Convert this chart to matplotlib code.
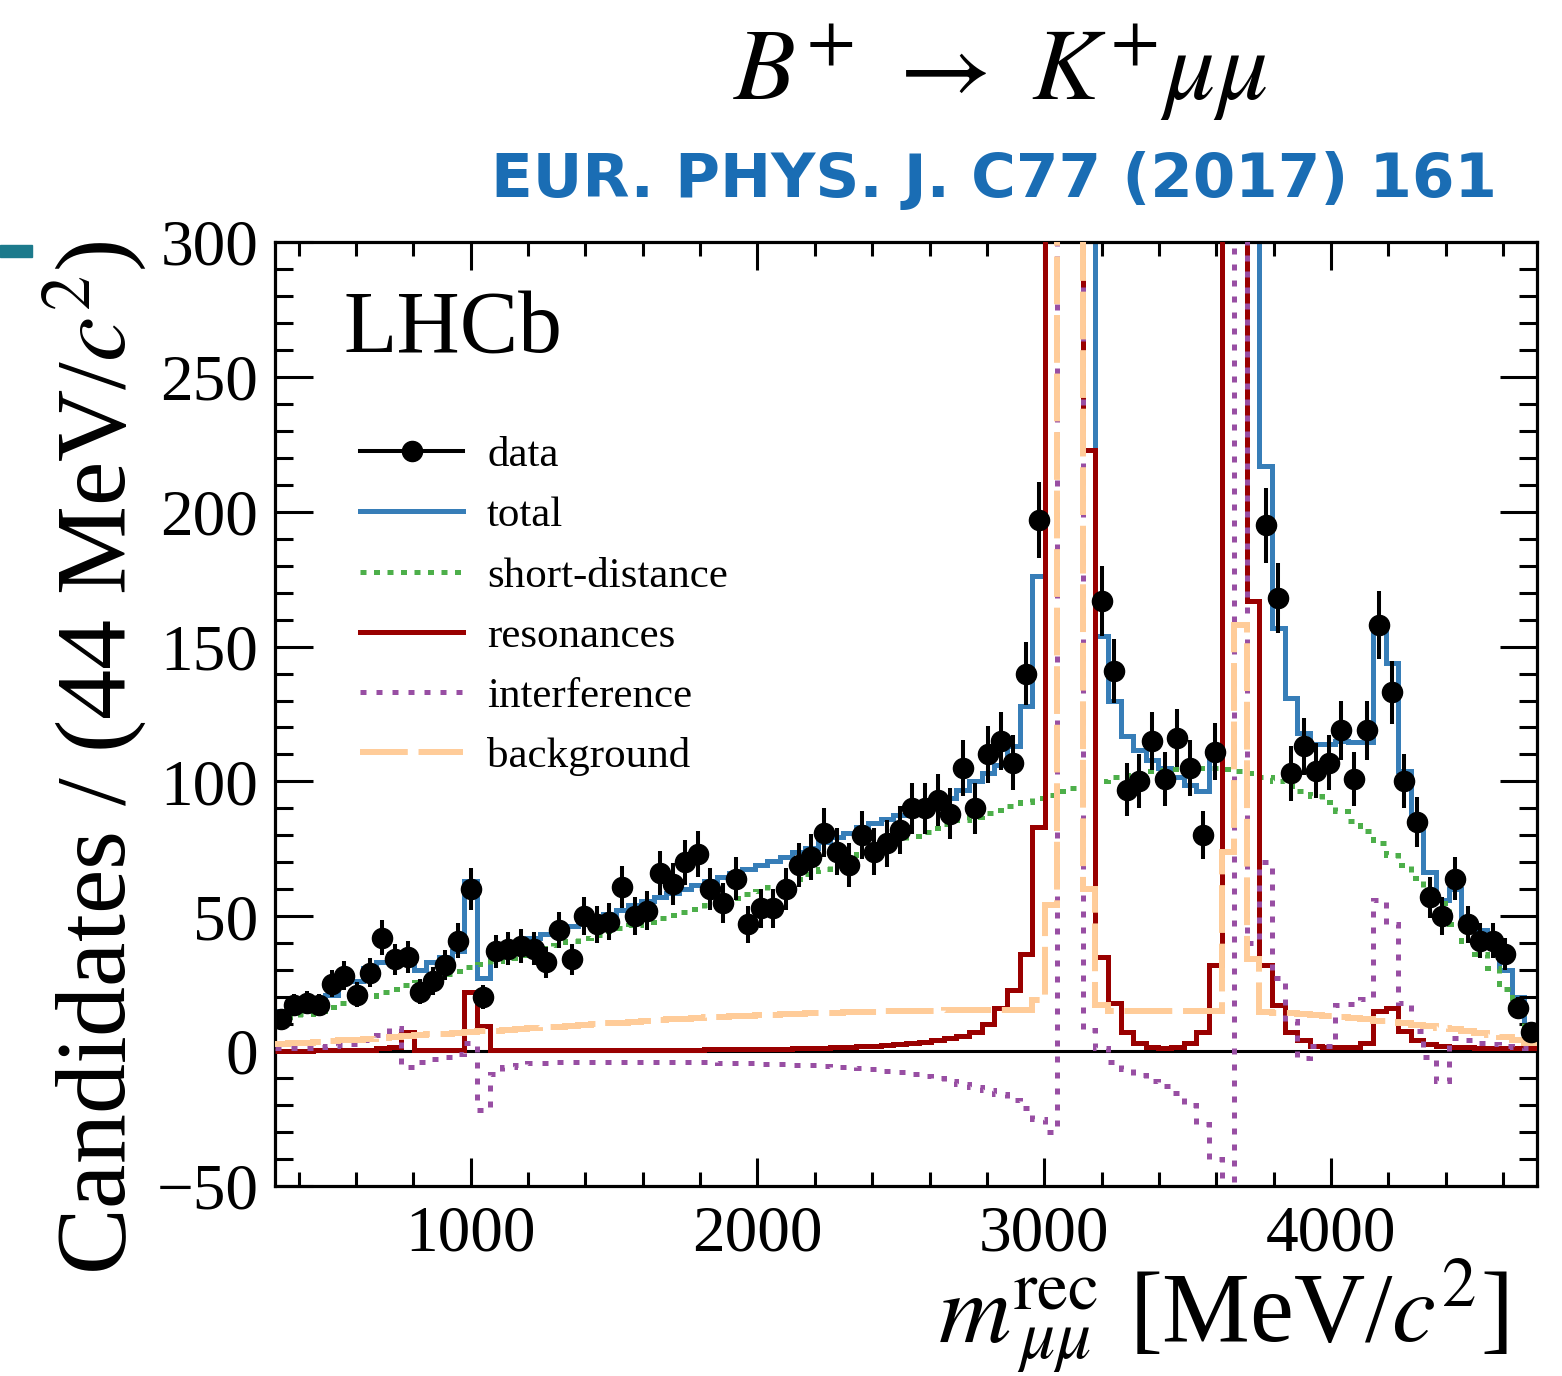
import numpy as np
import matplotlib
matplotlib.use('Agg')
import matplotlib.pyplot as plt
from matplotlib.lines import Line2D
from matplotlib.patches import Rectangle
from matplotlib.ticker import MultipleLocator

plt.rcParams['font.family'] = ['Liberation Serif', 'DejaVu Serif']
plt.rcParams['mathtext.fontset'] = 'stix'

# ---------------- data ----------------
m_lo = 318.0
bin_width = 44.0
n_bins = 100

data_counts = [12, 17, 18, 17, 25, 28, 21, 29, 42, 34,
               35, 22, 26, 32, 41, 60, 20, 37, 38, 39,
               38, 33, 45, 34, 50, 47, 48, 61, 50, 52,
               66, 62, 70, 73, 60, 55, 64, 47, 53, 53,
               60, 69, 72, 81, 74, 69, 80, 74, 77, 82,
               90, 90, 93, 88, 105, 90, 110, 115, 107, 140,
               197, 1100, 4600, 3200, 420, 167, 141, 97, 100, 115,
               101, 116, 105, 80, 111, 650, 2400, 360, 195, 168,
               103, 113, 104, 107, 119, 101, 119, 158, 133, 100,
               85, 57, 50, 64, 47, 41, 41, 36, 16, 7]

total_fit = [15, 16, 17, 19, 21, 26, 26, 31, 33, 36,
             36, 30, 33, 35, 37, 63, 27, 35, 38, 40,
             42, 43.5, 45, 46.5, 48, 49.5, 51, 52.5, 54, 55.5,
             57, 58.5, 60, 61.5, 63, 64.5, 66, 67.5, 69, 70.5,
             72, 74, 75.5, 77.5, 79.5, 81, 83, 84.5, 86, 87.5,
             88.5, 90.5, 92, 94, 97, 100, 103, 106, 113, 128,
             176, 900, 3500, 2300, 390, 154, 130, 117, 111.5, 108,
             105, 101.6, 98.5, 96.6, 109, 700, 2500, 344, 217, 157,
             131, 118, 114, 114, 115, 114.5, 114.5, 157, 144, 104,
             83, 66.5, 56, 60, 48, 45, 40, 30, 20, 8]

short_distance = [12.0, 12.6, 13.8, 15.0, 16.5, 17.8, 19.0, 20.4, 21.8, 23.2,
                  24.5, 25.8, 27.2, 28.5, 29.8, 31.2, 32.4, 33.6, 34.6, 35.6,
                  37.0, 38.3, 39.5, 40.7, 41.9, 43.1, 44.4, 45.5, 46.6, 47.9,
                  49.2, 50.4, 51.6, 52.8, 54.1, 55.4, 56.8, 58.1, 59.5, 60.9,
                  62.3, 64.0, 65.7, 67.6, 69.4, 71.2, 73.0, 74.8, 76.6, 78.3,
                  79.8, 81.3, 82.8, 84.3, 85.6, 86.9, 88.2, 89.5, 90.9, 92.3,
                  93.7, 95.0, 96.3, 97.6, 99.0, 100.3, 101.5, 102.4, 103.2, 103.9,
                  104.4, 104.7, 104.9, 104.9, 104.8, 104.5, 103.9, 103.0, 101.8, 100.2,
                  98.3, 96.5, 94.6, 92.5, 89.0, 85.3, 81.5, 77.3, 72.8, 69.0,
                  64.3, 59.5, 55.0, 47.0, 41.0, 36.0, 31.0, 23.0, 16.0, 7.0]

resonances = [0.2, 0.2, 0.2, 0.3, 0.3, 0.3, 0.4, 0.5, 1.0, 1.5,
              7.0, 0.5, 0.4, 0.4, 0.6, 22.0, 9.5, 0.6, 0.5, 0.5,
              0.5, 0.5, 0.5, 0.5, 0.5, 0.5, 0.5, 0.5, 0.5, 0.5,
              0.5, 0.6, 0.6, 0.6, 0.7, 0.7, 0.7, 0.8, 0.8, 0.9,
              0.9, 1.0, 1.1, 1.2, 1.4, 1.6, 1.8, 2.0, 2.3, 2.6,
              3.0, 3.4, 4.0, 4.7, 5.6, 7.0, 10.0, 16.0, 22.5, 36.0,
              83.0, 800, 3000, 2000, 223, 35, 18, 7, 3, 1.5,
              1.3, 1.5, 3, 7, 32, 400, 1500, 167, 32, 17,
              7, 4, 2, 1.5, 1.5, 1.5, 3, 15, 16, 7.5,
              4, 2.8, 1.8, 1.6, 1.4, 1.2, 1.2, 1.0, 1.0, 1.0]

interference = [1.0, 1.0, 1.2, 1.5, 1.8, 2.2, 2.8, 4.0, 6.0, 8.4,
                -6.0, -4.0, -2.8, -2.0, -1.0, 3.0, -22.0, -8.5, -6.0, -5.0,
                -4.5, -4.3, -4.2, -4.2, -4.1, -4.1, -4.1, -4.1, -4.1, -4.1,
                -4.1, -4.2, -4.2, -4.2, -4.2, -4.3, -4.4, -4.5, -4.6, -4.7,
                -4.8, -5.0, -5.2, -5.4, -5.7, -6.0, -6.4, -6.8, -7.3, -7.9,
                -8.5, -9.2, -10.0, -11.0, -12.0, -13.2, -14.5, -16.0, -18.0, -21.0,
                -25.0, -30.0, 900, 400, 8.0, 1.0, -4.0, -6.5, -9.0, -11.0,
                -13.0, -15.5, -20.0, -27.0, -40.0, -80.0, 700, 40.0, 70.0, 27.0,
                11.0, -2.5, 2.0, 2.0, 17.0, 17.5, 19.5, 56.0, 47.0, 18.0,
                7.5, -2.0, -11.0, 5.0, 4.0, 3.0, 2.5, 2.0, 1.5, 1.0]

background = [2.8, 3.0, 3.2, 3.5, 3.8, 4.0, 4.3, 4.6, 5.0, 5.3,
              5.6, 5.9, 6.2, 6.5, 6.8, 7.0, 7.3, 7.6, 7.9, 8.2,
              8.5, 8.8, 9.1, 9.4, 9.7, 10.0, 10.3, 10.6, 10.9, 11.2,
              11.5, 11.8, 12.0, 12.2, 12.5, 12.7, 12.9, 13.1, 13.3, 13.5,
              13.7, 13.9, 14.0, 14.2, 14.3, 14.4, 14.5, 14.6, 14.7, 14.8,
              14.9, 15.0, 15.0, 15.1, 15.1, 15.1, 15.1, 15.1, 15.1, 15.1,
              19.0, 54.0, 1500, 1200, 60.0, 17.0, 14.8, 14.8, 14.8, 14.8,
              14.8, 14.8, 14.8, 14.8, 15.0, 74.0, 158.0, 34.0, 14.5, 14.3,
              14.0, 13.7, 13.4, 13.0, 12.6, 12.2, 11.8, 11.3, 10.8, 10.3,
              9.8, 9.2, 8.7, 8.1, 7.5, 6.8, 6.0, 5.2, 4.2, 3.2]

legend_labels = ['data', 'total', 'short-distance', 'resonances',
                 'interference', 'background']
y_ticks = [-50, 0, 50, 100, 150, 200, 250, 300]
x_ticks = [1000, 2000, 3000, 4000]

# ---------------- geometry ----------------
edges = m_lo + bin_width * np.arange(n_bins + 1)
centers = edges[:-1] + bin_width / 2.0
counts = np.asarray(data_counts, dtype=float)

W, H = 1562, 1376
fig = plt.figure(figsize=(W / 100, H / 100), dpi=100)
ax = fig.add_axes([275 / W, 1 - 1186 / H, (1537 - 275) / W, (1186 - 242) / H])

c_blue = '#377EB8'
c_green = '#4DAF4A'
c_red = '#990000'
c_purple = '#984EA3'
c_orange = '#FFCC99'
lw = 3.6

ax.axhline(0, color='black', lw=2.2, zorder=0.5)
ax.stairs(total_fit, edges, baseline=None, color=c_blue, lw=lw, zorder=1)
ax.stairs(short_distance, edges, baseline=None, color=c_green, lw=lw,
          linestyle=(0, (1.2, 1.5)), zorder=2)
ax.stairs(resonances, edges, baseline=None, color=c_red, lw=lw, zorder=3)
ax.stairs(interference, edges, baseline=None, color=c_purple, lw=lw,
          linestyle=(0, (1.2, 2.0)), zorder=4)
ax.stairs(background, edges, baseline=None, color=c_orange, lw=4.3,
          linestyle=(0, (8, 1.8)), zorder=5)
ax.errorbar(centers, counts, yerr=np.sqrt(counts), fmt='o', color='black',
            ms=14.5, elinewidth=2.9, capsize=0, zorder=6)

ax.set_xlim(edges[0], edges[-1])
ax.set_ylim(-50, 300)
ax.set_xticks(x_ticks)
ax.set_yticks(y_ticks)
ax.xaxis.set_minor_locator(MultipleLocator(200))
ax.yaxis.set_minor_locator(MultipleLocator(10))
ax.tick_params(which='both', direction='in', top=True, right=True,
               width=2.2, labelsize=47)
ax.tick_params(axis='y', which='major', length=27, pad=12)
ax.tick_params(axis='y', which='minor', length=13)
ax.tick_params(axis='x', which='major', length=20, pad=14)
ax.tick_params(axis='x', which='minor', length=10)
for s in ax.spines.values():
    s.set_linewidth(2.3)

handles = [
    Line2D([], [], color='black', marker='o', ms=14.5, lw=2.9),
    Line2D([], [], color=c_blue, lw=lw),
    Line2D([], [], color=c_green, lw=lw, linestyle=(0, (1.2, 1.5))),
    Line2D([], [], color=c_red, lw=lw),
    Line2D([], [], color=c_purple, lw=lw, linestyle=(0, (1.2, 2.0))),
    Line2D([], [], color=c_orange, lw=4.3, linestyle=(0, (8, 1.8))),
]
ax.legend(handles, legend_labels, loc='upper left',
          bbox_to_anchor=((360 - 275) / 1262, 1 - (436 - 242) / 944),
          frameon=False, fontsize=31, numpoints=1, handlelength=2.4,
          handletextpad=0.55, labelspacing=0.49, borderpad=0, borderaxespad=0)

fig.text(343 / W, 1 - 352 / H, 'LHCb', fontsize=63, va='baseline', ha='left')
fig.text(95 / W, 1 - 240 / H, r'Candidates / (44 MeV/$c^2$)', fontsize=72,
         rotation=90, va='top', ha='center')

# x-axis title assembled from its pieces: m, stacked scripts, unit
fig.text(1508 / W, 1 - 1342 / H, r'[MeV/$c^2$]', fontsize=71,
         va='baseline', ha='right')
fig.text(938 / W, 1 - 1342 / H, r'$m$', fontsize=72, va='baseline', ha='left')
fig.text(1013 / W, 1 - 1325 / H,
         r'$\genfrac{}{}{0}{0}{\mathrm{rec}}{\mu\mu}$',
         fontsize=50, va='center', ha='left')

fig.text(1000 / W, 1 - 100 / H, r'$B^{+}\ \rightarrow\ K^{+}\mu\mu$',
         fontsize=73, va='baseline', ha='center')
fig.text(1497 / W, 1 - 197 / H, 'EUR. PHYS. J. C77 (2017) 161',
         fontsize=44, fontweight='bold', family='DejaVu Sans',
         color='#1A6DB4', va='baseline', ha='right')
fig.patches.append(Rectangle((0, 1 - 257 / H), 32 / W, 12 / H,
                             transform=fig.transFigure, color='#1C7A8C'))

fig.savefig('out.png', dpi=100)
